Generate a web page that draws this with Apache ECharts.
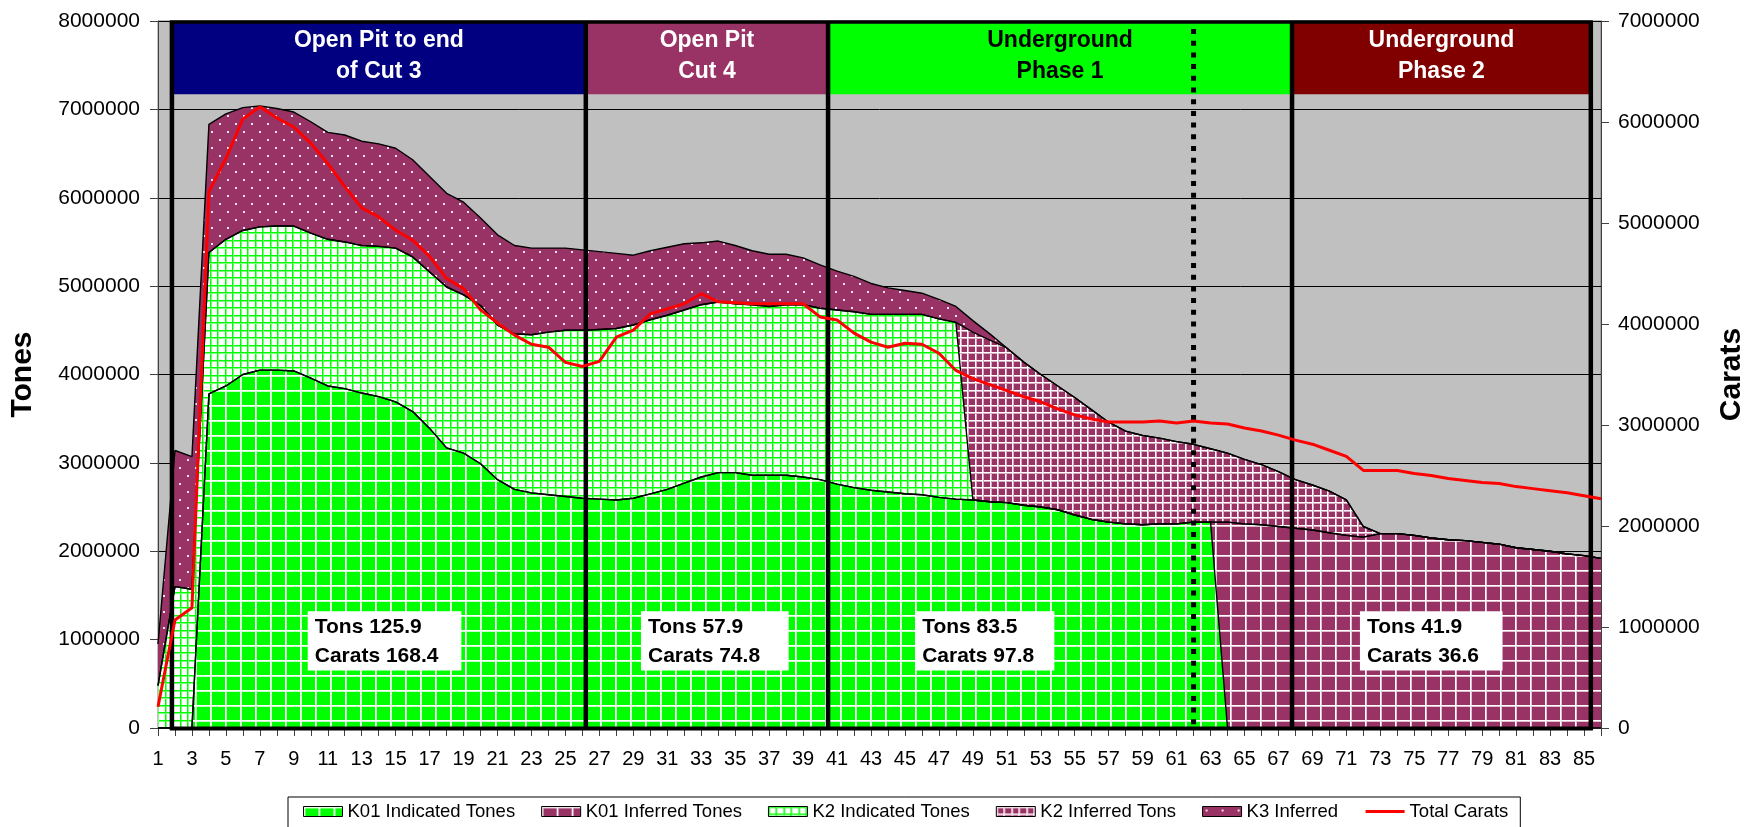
<!DOCTYPE html>
<html>
<head>
<meta charset="utf-8">
<script src="https://cdn.jsdelivr.net/npm/echarts@6/dist/echarts.min.js"></script>
<style>
html,body{margin:0;padding:0;background:#ffffff;}
#chart{width:1755px;height:827px;}
</style>
</head>
<body>
<div id="chart"></div>
<script>
// ---------------- DATA ----------------
const categories = ['1','2','3','4','5','6','7','8','9','10','11','12','13','14','15','16','17','18','19','20',
  '21','22','23','24','25','26','27','28','29','30','31','32','33','34','35','36','37','38','39','40',
  '41','42','43','44','45','46','47','48','49','50','51','52','53','54','55','56','57','58','59','60',
  '61','62','63','64','65','66','67','68','69','70','71','72','73','74','75','76','77','78','79','80',
  '81','82','83','84','85','86'];

const k01IndicatedTones = [0,0,0,3780000,3870000,4000000,4050000,4050000,4040000,3960000,
  3870000,3840000,3790000,3750000,3690000,3580000,3390000,3170000,3110000,2990000,
  2810000,2700000,2660000,2640000,2620000,2600000,2590000,2580000,2600000,2650000,
  2700000,2770000,2840000,2890000,2890000,2860000,2860000,2860000,2840000,2810000,
  2760000,2720000,2690000,2670000,2650000,2640000,2610000,2590000,2580000,2560000,
  2550000,2520000,2500000,2470000,2410000,2360000,2330000,2310000,2300000,2310000,
  2310000,2330000,2330000,0,0,0,0,0,0,0,
  0,0,0,0,0,0,0,0,0,0,
  0,0,0,0,0,0];

const k01InferredTones = [0,0,0,0,0,0,0,0,0,0,
  0,0,0,0,0,0,0,0,0,0,
  0,0,0,0,0,0,0,0,0,0,
  0,0,0,0,0,0,0,0,0,0,
  0,0,0,0,0,0,0,0,0,0,
  0,0,0,0,0,0,0,0,0,0,
  0,0,0,2330000,2310000,2300000,2280000,2260000,2240000,2210000,
  2180000,2160000,2200000,2200000,2180000,2150000,2130000,2120000,2100000,2080000,
  2040000,2020000,2000000,1970000,1950000,1920000];

const k2IndicatedTones = [480000,1600000,1570000,1600000,1660000,1630000,1620000,1630000,1640000,1640000,
  1660000,1660000,1670000,1700000,1740000,1750000,1770000,1820000,1790000,1790000,
  1750000,1760000,1790000,1840000,1880000,1900000,1920000,1940000,1960000,1970000,
  1970000,1960000,1950000,1930000,1910000,1930000,1910000,1930000,1950000,1940000,
  1970000,1990000,1990000,2010000,2030000,2040000,2020000,2000000,0,0,
  0,0,0,0,0,0,0,0,0,0,
  0,0,0,0,0,0,0,0,0,0,
  0,0,0,0,0,0,0,0,0,0,
  0,0,0,0,0,0];

const k2InferredTons = [0,0,0,0,0,0,0,0,0,0,
  0,0,0,0,0,0,0,0,0,0,
  0,0,0,0,0,0,0,0,0,0,
  0,0,0,0,0,0,0,0,0,0,
  0,0,0,0,0,0,0,0,1900000,1830000,
  1750000,1620000,1500000,1400000,1330000,1240000,1130000,1050000,1010000,970000,
  930000,880000,830000,780000,730000,680000,620000,550000,510000,470000,
  400000,120000,0,0,0,0,0,0,0,0,
  0,0,0,0,0,0];

const k3Inferred = [470000,1540000,1500000,1450000,1420000,1390000,1370000,1330000,1290000,1260000,
  1210000,1210000,1180000,1160000,1130000,1100000,1080000,1060000,1050000,990000,
  1020000,1000000,980000,950000,930000,910000,880000,850000,790000,780000,
  770000,750000,700000,690000,660000,610000,590000,570000,530000,490000,
  440000,400000,350000,300000,270000,240000,220000,180000,130000,70000,
  0,0,0,0,0,0,0,0,0,0,
  0,0,0,0,0,0,0,0,0,0,
  0,0,0,0,0,0,0,0,0,0,
  0,0,0,0,0,0];

const totalCarats = [210000,1070000,1190000,5310000,5640000,6030000,6150000,6040000,5950000,5790000,
  5590000,5360000,5150000,5060000,4930000,4830000,4670000,4450000,4350000,4140000,
  4010000,3890000,3800000,3770000,3620000,3580000,3630000,3870000,3940000,4100000,
  4150000,4200000,4300000,4220000,4210000,4200000,4200000,4200000,4200000,4070000,
  4040000,3910000,3820000,3770000,3810000,3800000,3710000,3540000,3460000,3400000,
  3340000,3280000,3230000,3160000,3100000,3060000,3030000,3030000,3030000,3040000,
  3020000,3040000,3020000,3010000,2970000,2940000,2900000,2850000,2810000,2750000,
  2690000,2550000,2550000,2550000,2520000,2500000,2470000,2450000,2430000,2420000,
  2390000,2370000,2350000,2330000,2300000,2270000];

// phase annotations
const phaseTitles = ['Open Pit to end\nof Cut 3', 'Open Pit\nCut 4', 'Underground\nPhase 1', 'Underground\nPhase 2'];
const phaseTons = [125.9, 57.9, 83.5, 41.9];
const phaseCarats = [168.4, 74.8, 97.8, 36.6];

// ---------------- LAYOUT (positions in category units / axis units) ----------------
const phaseBounds = [1.82, 26.2, 40.47, 67.8, 85.4];
const dottedLineAt = 62.0;
const headerBottom = 7170000;
const summaryBoxX = [[9.82, 18.87], [29.45, 38.15], [45.6, 53.8], [71.8, 80.2]];
const summaryBoxY = [1320000, 650000];

// ---------------- STYLES ----------------
const FONT = '"Liberation Sans", Arial, Helvetica, sans-serif';
const GREEN = '#00FF00', PURPLE = '#993366';
const headerFills = ['#000080', '#993366', '#00FF00', '#800000'];
const headerText = ['#ffffff', '#ffffff', '#000000', '#ffffff'];

function tile(size, draw) {
  const c = document.createElement('canvas');
  c.width = size; c.height = size;
  draw(c.getContext('2d'), size);
  return { image: c, repeat: 'repeat' };
}
const bigGreen = tile(15, (g, s) => {
  g.fillStyle = GREEN; g.fillRect(0, 0, s, s);
  g.fillStyle = '#c4ffc4'; g.fillRect(0, 1, s, 1); g.fillRect(1, 0, 1, s);
  g.fillStyle = '#ffffff'; g.fillRect(0, 0, s, 1); g.fillRect(0, 0, 1, s);
});
const bigPurple = tile(15, (g, s) => {
  g.fillStyle = PURPLE; g.fillRect(0, 0, s, s);
  g.fillStyle = '#e0bfd0'; g.fillRect(0, 1, s, 1); g.fillRect(1, 0, 1, s);
  g.fillStyle = '#ffffff'; g.fillRect(0, 0, s, 1); g.fillRect(0, 0, 1, s);
});
const smallGreen = tile(15, (g, s) => {
  g.fillStyle = '#ffffff'; g.fillRect(0, 0, s, s);
  [0, 7].forEach(p => {
    g.fillStyle = '#7dff7d'; g.fillRect(0, p + 1, s, 1); g.fillRect(p + 1, 0, 1, s);
    g.fillStyle = GREEN; g.fillRect(0, p, s, 1); g.fillRect(p, 0, 1, s);
  });
});
const smallPurple = tile(15, (g, s) => {
  g.fillStyle = PURPLE; g.fillRect(0, 0, s, s);
  [0, 7].forEach(p => {
    g.fillStyle = '#d9a9c1'; g.fillRect(0, p + 1, s, 1); g.fillRect(p + 1, 0, 1, s);
    g.fillStyle = '#ffffff'; g.fillRect(0, p, s, 1); g.fillRect(p, 0, 1, s);
  });
});
const dotPurple = tile(16, (g, s) => {
  g.fillStyle = PURPLE; g.fillRect(0, 0, s, s);
  g.fillStyle = '#f4e4ec'; g.fillRect(3, 3, 2, 2); g.fillRect(11, 11, 2, 2);
});

function areaSeries(name, data, pattern) {
  return {
    name, type: 'line', stack: 'tons', data,
    xAxisIndex: 0, yAxisIndex: 0,
    symbol: 'none', showSymbol: false, smooth: false,
    lineStyle: { color: '#000000', width: 1.4 },
    areaStyle: { color: pattern, opacity: 1 },
    itemStyle: { color: pattern },
    emphasis: { disabled: true },
    z: 2
  };
}

const chart = echarts.init(document.getElementById('chart'), null, { renderer: 'canvas' });

const option = {
  animation: false,
  backgroundColor: '#ffffff',
  grid: {
    left: 157, right: 143, top: 21, bottom: 99,
    show: true, backgroundColor: '#C0C0C0', borderColor: '#808080', borderWidth: 1
  },
  legend: {
    left: 288, top: 797,
    itemWidth: 39, itemHeight: 10, itemGap: 26,
    padding: [5, 12, 14, 15],
    borderColor: '#000000', borderWidth: 1, backgroundColor: '#ffffff',
    selectedMode: false,
    textStyle: { fontFamily: FONT, fontSize: 18.5, color: '#000000' },
    data: [
      { name: 'K01 Indicated Tones', icon: 'rect', itemStyle: { color: bigGreen, borderColor: '#000', borderWidth: 1 } },
      { name: 'K01 Inferred Tones', icon: 'rect', itemStyle: { color: bigPurple, borderColor: '#000', borderWidth: 1 } },
      { name: 'K2 Indicated Tones', icon: 'rect', itemStyle: { color: smallGreen, borderColor: '#000', borderWidth: 1 } },
      { name: 'K2 Inferred Tons', icon: 'rect', itemStyle: { color: smallPurple, borderColor: '#000', borderWidth: 1 } },
      { name: 'K3 Inferred', icon: 'rect', itemStyle: { color: dotPurple, borderColor: '#000', borderWidth: 1 } },
      { name: 'Total Carats', itemStyle: { opacity: 0, borderWidth: 0 }, lineStyle: { color: '#FF0000', width: 3 } }
    ]
  },
  xAxis: [
    {
      type: 'category', data: categories, boundaryGap: false,
      axisLine: { lineStyle: { color: '#404040', width: 1 } },
      axisTick: { show: true, interval: 0, length: 8, inside: false, lineStyle: { color: '#404040' } },
      axisLabel: { interval: 1, margin: 21, fontFamily: FONT, fontSize: 20, color: '#000000' },
      splitLine: { show: false }
    },
    { type: 'value', min: 1, max: 86, show: false, splitLine: { show: false } }
  ],
  yAxis: [
    {
      type: 'value', min: 0, max: 8000000, interval: 1000000, position: 'left',
      name: 'Tones', nameLocation: 'middle', nameRotate: 90, nameGap: 120,
      nameTextStyle: { fontFamily: FONT, fontSize: 30, fontWeight: 'bold', color: '#000000' },
      axisLine: { show: true, lineStyle: { color: '#404040' } },
      axisTick: { show: true, length: 8, lineStyle: { color: '#404040' } },
      axisLabel: { margin: 18, fontFamily: FONT, fontSize: 21, color: '#000000', formatter: v => String(v) },
      splitLine: { show: true, lineStyle: { color: '#000000', width: 1 } }
    },
    {
      type: 'value', min: 0, max: 7000000, interval: 1000000, position: 'right',
      name: 'Carats', nameLocation: 'middle', nameRotate: 90, nameGap: 116,
      nameTextStyle: { fontFamily: FONT, fontSize: 30, fontWeight: 'bold', color: '#000000' },
      axisLine: { show: true, lineStyle: { color: '#404040' } },
      axisTick: { show: true, length: 8, lineStyle: { color: '#404040' } },
      axisLabel: { margin: 17, fontFamily: FONT, fontSize: 21, color: '#000000', formatter: v => String(v) },
      splitLine: { show: false }
    }
  ],
  series: [
    areaSeries('K01 Indicated Tones', k01IndicatedTones, bigGreen),
    areaSeries('K01 Inferred Tones', k01InferredTones, bigPurple),
    areaSeries('K2 Indicated Tones', k2IndicatedTones, smallGreen),
    areaSeries('K2 Inferred Tons', k2InferredTons, smallPurple),
    areaSeries('K3 Inferred', k3Inferred, dotPurple),
    // phase header boxes
    {
      type: 'custom', xAxisIndex: 1, yAxisIndex: 0, silent: true, z: 6,
      data: phaseTitles.map((t, i) => [phaseBounds[i], phaseBounds[i + 1], i]),
      encode: { x: [0, 1] },
      renderItem: (params, api) => {
        const i = api.value(2);
        const p1 = api.coord([api.value(0), 8000000]);
        const p2 = api.coord([api.value(1), headerBottom]);
        return {
          type: 'group',
          children: [
            { type: 'rect', shape: { x: p1[0], y: p1[1], width: p2[0] - p1[0], height: p2[1] - p1[1] }, style: { fill: headerFills[i] } },
            { type: 'text', style: {
                text: phaseTitles[i], x: (p1[0] + p2[0]) / 2, y: (p1[1] + p2[1]) / 2 - 2,
                align: 'center', verticalAlign: 'middle', fill: headerText[i],
                font: 'bold 23px ' + FONT, lineHeight: 31 } }
          ]
        };
      }
    },
    // frame lines
    {
      type: 'custom', xAxisIndex: 1, yAxisIndex: 0, silent: true, z: 7,
      data: [[phaseBounds[0], 0]],
      renderItem: (params, api) => {
        const children = [];
        phaseBounds.forEach(x => {
          const a = api.coord([x, 8000000]), b = api.coord([x, 0]);
          children.push({ type: 'line', shape: { x1: a[0], y1: a[1], x2: b[0], y2: b[1] + 2 }, style: { stroke: '#000', lineWidth: 4.5 } });
        });
        const tl = api.coord([phaseBounds[0], 8000000]);
        const tr = api.coord([phaseBounds[phaseBounds.length - 1], 8000000]);
        children.push({ type: 'line', shape: { x1: tl[0] - 2, y1: tl[1] + 1, x2: tr[0] + 2, y2: tr[1] + 1 }, style: { stroke: '#000', lineWidth: 3.5 } });
        const bl = api.coord([phaseBounds[0], 0]);
        const br = api.coord([phaseBounds[phaseBounds.length - 1], 0]);
        children.push({ type: 'line', shape: { x1: bl[0] - 2, y1: bl[1] + 0.5, x2: br[0] + 2, y2: br[1] + 0.5 }, style: { stroke: '#000', lineWidth: 4 } });
        const da = api.coord([dottedLineAt, 8000000]), db = api.coord([dottedLineAt, 0]);
        children.push({ type: 'line', shape: { x1: da[0], y1: da[1] + 8, x2: db[0], y2: db[1] }, style: { stroke: '#000', lineWidth: 5, lineDash: [5, 6.7] } });
        return { type: 'group', children };
      }
    },
    // summary boxes
    {
      type: 'custom', xAxisIndex: 1, yAxisIndex: 0, silent: true, z: 9,
      data: phaseTons.map((t, i) => [summaryBoxX[i][0], summaryBoxX[i][1], i]),
      encode: { x: [0, 1] },
      renderItem: (params, api) => {
        const i = api.value(2);
        const p1 = api.coord([api.value(0), summaryBoxY[0]]);
        const p2 = api.coord([api.value(1), summaryBoxY[1]]);
        return {
          type: 'group',
          children: [
            { type: 'rect', shape: { x: p1[0], y: p1[1], width: p2[0] - p1[0], height: p2[1] - p1[1] }, style: { fill: '#ffffff' } },
            { type: 'text', style: {
                text: 'Tons ' + phaseTons[i] + '\nCarats ' + phaseCarats[i],
                x: p1[0] + 7, y: (p1[1] + p2[1]) / 2 + 1,
                align: 'left', verticalAlign: 'middle', fill: '#000',
                font: 'bold 21px ' + FONT, lineHeight: 29 } }
          ]
        };
      }
    },
    {
      name: 'Total Carats', type: 'line', data: totalCarats,
      xAxisIndex: 0, yAxisIndex: 1,
      symbol: 'none', showSymbol: false, smooth: false,
      lineStyle: { color: '#FF0000', width: 3 },
      itemStyle: { color: '#FF0000' },
      emphasis: { disabled: true },
      z: 8
    }
  ]
};
chart.setOption(option);
</script>
</body>
</html>
